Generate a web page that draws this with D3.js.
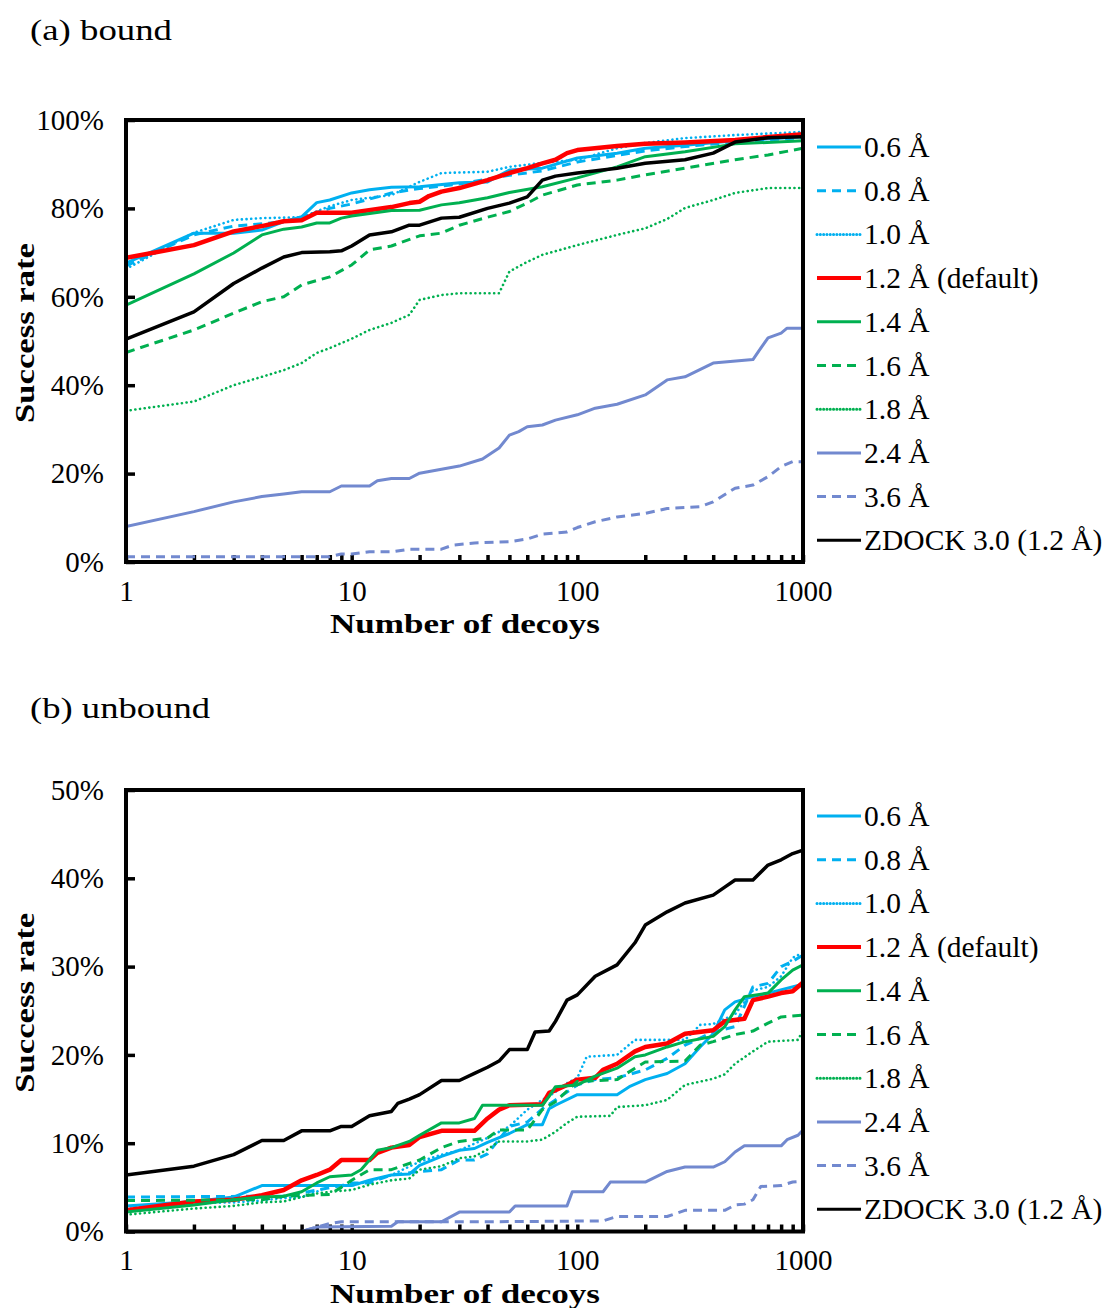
<!DOCTYPE html>
<html>
<head>
  <meta charset="utf-8">
  <title>Success rate vs number of decoys</title>
  <script src="https://cdn.jsdelivr.net/npm/d3@7"></script>
  <style>
    body { margin: 0; background: #fff; }
    svg text { font-family: "Liberation Serif", "Times New Roman", serif; fill: #000; }
  </style>
</head>
<body>
<script>
// legend labels, colours and line styles (same for both panels)
const seriesNames = ["0.6 Å", "0.8 Å", "1.0 Å", "1.2 Å (default)", "1.4 Å", "1.6 Å", "1.8 Å", "2.4 Å", "3.6 Å", "ZDOCK 3.0 (1.2 Å)"];
const seriesColors = ["#00b0f0", "#00b0f0", "#00b0f0", "#ff0000", "#00b050", "#00b050", "#00b050", "#7289cf", "#7289cf", "#000000"];
const seriesDash = ["solid", "dash", "dot", "solid", "solid", "dash", "dot", "solid", "dash", "solid"];
const seriesWidth = [3, 3, 2.6, 4.5, 3, 3, 2.6, 3, 3, 3.5];

const xTickLabels = [1, 10, 100, 1000];

// (a) bound : [number of decoys, success rate %]
const a06 = [[1,67.6],[2,74.4],[3,74.4],[4,75.1],[5,77],[6,78.1],[7,81.3],[8,81.9],[10,83.5],[12,84.2],[15,84.8],[20,84.9],[30,85.8],[40,86],[50,88.7],[70,89.1],[100,91.4],[150,92.5],[200,93.6],[300,94.3],[500,95.3],[1000,96.2]];
const a08 = [[1,67],[2,74],[3,76],[4,76.5],[5,77],[6,78],[8,80],[10,81],[15,83.5],[20,84.5],[30,85.5],[50,87.5],[70,88.5],[100,90.5],[150,92],[200,93],[300,94],[500,95],[1000,96]];
const a10 = [[1,66.3],[2,74.5],[3,77.4],[4,77.8],[6,78],[8,80.5],[10,81.9],[15,83],[20,86],[25,88],[40,88.3],[50,89.4],[70,90.3],[100,91],[150,93.6],[200,94.8],[300,95.9],[500,96.6],[1000,97.3]];
const a12 = [[1,68.8],[2,71.7],[3,74.8],[4,76],[5,77.1],[6,77.3],[7,79],[10,79],[15,80.3],[18,81.2],[20,81.5],[22,82.8],[25,83.8],[30,84.6],[40,86.4],[50,88],[60,89.1],[70,90.2],[80,91],[90,92.5],[100,93.2],[150,94.1],[200,94.6],[300,94.9],[500,95.5],[1000,96.8]];
const a14 = [[1,58.1],[2,65.2],[3,69.9],[4,74],[5,75.3],[6,75.8],[7,76.7],[8,76.7],[9,77.8],[10,78.3],[15,79.5],[20,79.6],[25,80.8],[30,81.3],[40,82.4],[50,83.6],[70,84.9],[100,86.9],[150,89.4],[200,91.7],[300,92.8],[500,94.6],[1000,95.3]];
const a16 = [[1,47.4],[2,52.5],[3,56.3],[4,58.9],[5,60],[6,62.7],[8,64.5],[10,67.2],[12,70.6],[15,71.5],[20,73.8],[25,74.4],[30,76.2],[40,78],[50,79.3],[60,81.2],[70,83],[100,85.3],[150,86.4],[200,87.6],[300,89.1],[500,91],[700,92.1],[1000,93.6]];
const a18 = [[1,34.2],[2,36.3],[3,40],[4,41.9],[5,43.4],[6,45],[7,47.3],[8,48.4],[10,50.5],[12,52.5],[15,54.1],[18,55.9],[20,59.3],[25,60.4],[30,60.8],[45,60.8],[50,65.7],[60,67.9],[70,69.5],[100,71.7],[150,74],[200,75.5],[250,77.6],[300,80.1],[400,81.9],[500,83.5],[700,84.6],[1000,84.6]];
const a24 = [[1,8],[2,11.4],[3,13.6],[4,14.8],[5,15.4],[6,15.9],[8,15.9],[9,17.2],[12,17.2],[13,18.4],[15,18.9],[18,18.9],[20,20.1],[25,21],[30,21.7],[38,23.3],[45,25.8],[50,28.7],[55,29.5],[60,30.6],[70,31],[80,32.1],[100,33.3],[120,34.8],[150,35.7],[200,37.8],[250,41.2],[300,41.9],[400,45],[600,45.8],[650,48.4],[700,50.7],[800,51.8],[850,52.9],[1000,52.9]];
const a36 = [[1,1.2],[8,1.2],[9,1.8],[10,1.8],[12,2.3],[15,2.3],[18,2.9],[25,2.9],[28,3.8],[35,4.3],[50,4.6],[60,5.2],[70,6.3],[90,6.8],[100,7.8],[120,9.1],[150,10.2],[200,11],[250,12.1],[350,12.5],[400,13.6],[500,16.7],[600,17.4],[700,19.3],[800,21.6],[900,22.7],[1000,22.7]];
const aZD = [[1,50.4],[2,56.6],[3,63],[4,66.5],[5,69],[6,70],[8,70.2],[9,70.4],[10,71.5],[12,74],[15,74.7],[18,76.2],[20,76.2],[25,77.8],[30,78],[40,80],[50,81.2],[60,82.6],[70,86.4],[80,87.3],[100,88],[150,89.1],[200,90.2],[300,91],[400,92.5],[500,95],[700,96],[1000,96.2]];

// (b) unbound
const b06 = [[1,2.9],[2,3.4],[3,3.9],[4,5.2],[10,5.2],[12,5.8],[15,6.4],[18,6.5],[20,7.5],[25,8.5],[30,9.2],[35,9.4],[40,10.1],[50,11.1],[60,12.1],[70,12.1],[75,13.9],[80,14.3],[100,15.5],[150,15.5],[170,16.4],[200,17.2],[250,17.9],[300,19],[350,20.9],[400,22.4],[450,25.1],[500,26],[600,26.6],[700,27],[1000,28]];
const b08 = [[1,3.9],[4,4],[5,4],[9,5.2],[10,5.5],[12,5.5],[15,6.4],[20,6.8],[25,7],[30,8.1],[35,8.1],[40,8.8],[50,11.9],[60,12.4],[70,13.9],[80,14.9],[100,16.6],[120,17.2],[150,17.4],[200,18.3],[250,19.6],[300,21.1],[400,22.6],[500,23.2],[550,25.5],[600,27.7],[700,28.1],[800,30],[900,30.6],[1000,31.3]];
const b10 = [[1,2.8],[2,3.2],[3,3.3],[4,3.5],[5,3.8],[6,3.9],[7,4.5],[8,5.2],[10,5.2],[12,5.7],[15,6.4],[20,7.9],[25,8.7],[30,9.2],[40,10.6],[50,11.9],[60,13.8],[70,14.9],[80,15.8],[90,16.8],[100,17.4],[110,19.8],[150,20],[180,21.7],[300,21.7],[350,23.4],[400,23.5],[500,24.6],[600,27.3],[700,27.7],[800,28.9],[900,31],[1000,31.6]];
const b12 = [[1,2.4],[2,3.4],[3,3.6],[4,4.1],[5,4.7],[6,5.8],[7,6.4],[8,7],[9,8.1],[12,8.1],[13,8.9],[15,9.5],[18,9.8],[20,10.7],[25,11.4],[35,11.4],[40,12.8],[45,13.8],[50,14.3],[70,14.4],[75,15.7],[80,16],[90,16.6],[100,17.2],[120,17.4],[130,18.3],[150,19],[180,20.4],[200,20.9],[250,21.3],[300,22.4],[400,22.8],[450,23.8],[550,24.1],[600,26.2],[700,26.6],[800,27],[900,27.2],[1000,28.2]];
const b14 = [[1,2.2],[2,3],[3,3.6],[4,3.9],[5,4],[6,4.5],[7,5.5],[8,6.2],[10,6.4],[11,7],[12,8.1],[13,9.2],[15,9.5],[18,10.2],[20,10.9],[25,12.3],[30,12.3],[35,12.8],[38,14.3],[70,14.3],[75,15.3],[80,16.4],[100,16.6],[120,17.6],[150,18.5],[180,19.8],[200,20],[250,20.9],[300,21.5],[400,22.1],[450,23.2],[500,25.1],[550,26.6],[700,27],[800,28.5],[900,29.6],[1000,30.2]];
const b16 = [[1,3.5],[4,3.6],[5,4],[8,4.2],[9,5],[10,5.8],[12,7],[15,7],[18,7.7],[20,8.1],[25,9.5],[30,10.2],[35,10.4],[40,10.6],[45,11.5],[60,11.5],[70,13.8],[80,14.7],[100,17],[150,17.2],[180,18.5],[200,19.2],[300,19.3],[350,21.1],[400,21.5],[500,22.3],[600,22.7],[700,23.6],[800,24.3],[1000,24.5]];
const b18 = [[1,1.9],[2,2.6],[3,2.9],[4,3.3],[5,3.4],[6,3.9],[7,4.3],[8,4.5],[10,4.7],[12,5.3],[15,5.8],[18,6],[20,7],[25,7.4],[30,8.3],[35,8.5],[40,9.3],[45,10.2],[60,10.2],[70,10.4],[80,11.3],[90,12.3],[100,13],[140,13.1],[150,14.1],[200,14.3],[250,14.9],[300,16.6],[400,17.3],[450,17.8],[500,19],[600,20.4],[700,21.5],[950,21.7],[1000,22.8]];
const b24 = [[1,0],[6,0],[7,0.5],[15,0.6],[16,1.1],[25,1.1],[30,2.2],[50,2.2],[53,2.9],[90,2.9],[95,4.5],[130,4.5],[140,5.6],[200,5.6],[250,6.8],[300,7.3],[400,7.3],[450,7.9],[500,9],[550,9.7],[800,9.7],[850,10.4],[950,10.9],[1000,11.5]];
const b36 = [[1,0],[6,0],[7,0.5],[8,0.9],[9,1.1],[40,1.1],[130,1.2],[150,1.7],[250,1.7],[300,2.4],[450,2.4],[500,3],[550,3.1],[600,3.6],[650,5.1],[800,5.2],[900,5.6],[1000,5.7]];
const bZD = [[1,6.4],[2,7.4],[3,8.7],[4,10.3],[5,10.3],[6,11.4],[8,11.4],[9,11.9],[10,11.9],[12,13.1],[15,13.6],[16,14.5],[18,15],[20,15.5],[25,17.1],[30,17.1],[35,17.9],[40,18.6],[45,19.3],[50,20.6],[60,20.6],[65,22.6],[75,22.7],[80,23.8],[90,26.2],[100,26.8],[120,28.9],[150,30.2],[180,32.7],[200,34.7],[250,36.2],[300,37.2],[400,38.1],[450,39],[500,39.8],[600,39.8],[700,41.5],[800,42.1],[900,42.8],[1000,43.2]];

const svg = d3.select("body").append("svg")
  .attr("width", 1106)
  .attr("height", 1308);

const dashes = { solid: null, dash: "9,6", dot: "0.1,4.6" };

function drawPanel(p) {
  const x = d3.scaleLog().domain([1, 1000]).range([126, 803]);
  const y = d3.scaleLinear().domain([0, p.yMax]).range([p.bottom, p.top]);

  // panel title
  svg.append("text")
    .attr("x", 30).attr("y", p.titleY)
    .attr("font-size", 30)
    .attr("textLength", p.titleLen).attr("lengthAdjust", "spacingAndGlyphs")
    .text(p.title);

  const clipId = "clip" + p.id;
  svg.append("clipPath").attr("id", clipId)
    .append("rect")
    .attr("x", 126).attr("y", p.top)
    .attr("width", 803 - 126).attr("height", p.bottom - p.top);

  // x axis, minor ticks inside
  const minor = [];
  [1, 10, 100].forEach(function (dec) {
    for (let k = 1; k <= 9; k++) minor.push(dec * k);
  });
  minor.push(1000);
  const xAxis = svg.append("g")
    .attr("transform", "translate(0," + p.bottom + ")")
    .call(d3.axisBottom(x)
      .tickValues(minor)
      .tickSize(-7)
      .tickPadding(18)
      .tickFormat(function (d) { return xTickLabels.indexOf(d) >= 0 ? d : ""; }));
  xAxis.select(".domain").remove();
  xAxis.selectAll(".tick line").attr("stroke", "#000").attr("stroke-width", 3.5);
  xAxis.selectAll(".tick text").attr("font-size", 29).attr("font-family", "Liberation Serif");

  // y axis
  const yAxis = svg.append("g")
    .attr("transform", "translate(126,0)")
    .call(d3.axisLeft(y)
      .tickValues(p.yTicks)
      .tickSize(-9)
      .tickPadding(22)
      .tickFormat(d3.format(".0%")));
  yAxis.select(".domain").remove();
  yAxis.selectAll(".tick line").attr("stroke", "#000").attr("stroke-width", 3.5);
  yAxis.selectAll(".tick text").attr("font-size", 29).attr("font-family", "Liberation Serif");

  // lines
  const line = d3.line()
    .x(function (d) { return x(d[0]); })
    .y(function (d) { return y(d[1] / 100); });

  const g = svg.append("g").attr("clip-path", "url(#" + clipId + ")");
  p.series.forEach(function (s, i) {
    g.append("path")
      .attr("d", line(s))
      .attr("fill", "none")
      .attr("stroke", seriesColors[i])
      .attr("stroke-width", seriesWidth[i])
      .attr("stroke-dasharray", dashes[seriesDash[i]])
      .attr("stroke-linecap", seriesDash[i] === "dot" ? "round" : "butt")
      .attr("stroke-linejoin", "round");
  });

  // frame
  svg.append("rect")
    .attr("x", 126).attr("y", p.top)
    .attr("width", 803 - 126).attr("height", p.bottom - p.top)
    .attr("fill", "none")
    .attr("stroke", "#000")
    .attr("stroke-width", 4);

  // axis titles
  svg.append("text")
    .attr("x", 465).attr("y", p.bottom + 71)
    .attr("text-anchor", "middle")
    .attr("font-size", 28).attr("font-weight", "bold")
    .attr("textLength", 270).attr("lengthAdjust", "spacingAndGlyphs")
    .text("Number of decoys");

  const cy = (p.top + p.bottom) / 2 - 8;
  svg.append("text")
    .attr("transform", "translate(34," + cy + ") rotate(-90)")
    .attr("text-anchor", "middle")
    .attr("font-size", 28).attr("font-weight", "bold")
    .attr("textLength", 180).attr("lengthAdjust", "spacingAndGlyphs")
    .text("Success rate");

  // legend
  const leg = svg.append("g");
  seriesNames.forEach(function (name, i) {
    const ly = p.legendTop + i * 43.7;
    leg.append("line")
      .attr("x1", 817).attr("x2", 861)
      .attr("y1", ly).attr("y2", ly)
      .attr("stroke", seriesColors[i])
      .attr("stroke-width", seriesWidth[i] === 4.5 ? 4 : 3)
      .attr("stroke-dasharray", seriesDash[i] === "dot" ? "0.1,3.2" : dashes[seriesDash[i]])
      .attr("stroke-linecap", seriesDash[i] === "dot" ? "round" : "butt");
    leg.append("text")
      .attr("x", 864).attr("y", ly + 10)
      .attr("font-size", 29.5)
      .text(name);
  });
}

drawPanel({
  id: "a", title: "(a) bound", titleLen: 142, titleY: 40,
  top: 120, bottom: 562, yMax: 1,
  yTicks: [0, 0.2, 0.4, 0.6, 0.8, 1],
  legendTop: 147,
  series: [a06, a08, a10, a12, a14, a16, a18, a24, a36, aZD]
});

drawPanel({
  id: "b", title: "(b) unbound", titleLen: 180, titleY: 718,
  top: 790, bottom: 1231.5, yMax: 0.5,
  yTicks: [0, 0.1, 0.2, 0.3, 0.4, 0.5],
  legendTop: 816,
  series: [b06, b08, b10, b12, b14, b16, b18, b24, b36, bZD]
});
</script>
</body>
</html>
